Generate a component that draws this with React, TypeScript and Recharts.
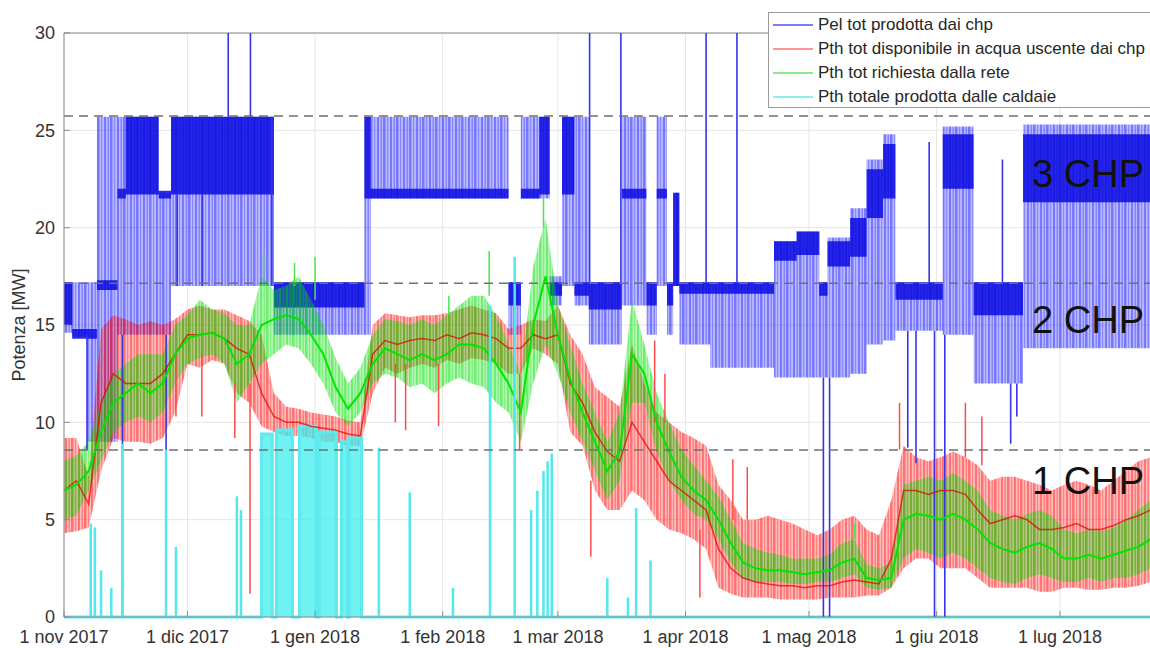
import React from 'react'
import {
  ComposedChart,
  Area,
  Line,
  XAxis,
  YAxis,
  CartesianGrid,
  ReferenceLine,
  ReferenceDot,
} from 'recharts'

const FONT = '"Liberation Sans", Arial, Helvetica, sans-serif'

// ── Axes ────────────────────────────────────────────────────────────────
// days counted from 1 nov 2017
const monthTickDays = [0, 30, 61, 92, 120, 151, 181, 212, 242]
const monthTickLabels = [
  '1 nov 2017', '1 dic 2017', '1 gen 2018', '1 feb 2018', '1 mar 2018',
  '1 apr 2018', '1 mag 2018', '1 giu 2018', '1 lug 2018',
]
const powerTicks = [0, 5, 10, 15, 20, 25, 30]

// CHP thresholds and their labels
const chpLevels = [8.58, 17.15, 25.73]
const chpLabels = ['1 CHP', '2 CHP', '3 CHP']
const chpLabelValues = [6.3, 14.6, 22.1]
const chpLabelDay = 235.2

// ── Legend ──────────────────────────────────────────────────────────────
const seriesNames = [
  'Pel tot prodotta dai chp',
  'Pth tot disponibile in acqua uscente dai chp',
  'Pth tot richiesta dalla rete',
  'Pth totale prodotta dalle caldaie',
]
const seriesLegendColors = ['#7b7bff', '#ff9494', '#8ee88e', '#8cefef']

// ── Pel (blue): step segments, start day + envelope + dense core ────────
const blueStartDay = [
  0, 2, 5.5, 8, 13, 15, 23, 26, 51, 73,
  74.5, 108, 111, 115.5, 118, 121, 124, 127.5, 135.5, 141.5,
  144, 146.5, 148, 149.5, 157, 172.5, 178, 183.5, 185.5, 191,
  195, 199, 202, 213.5, 221, 233, 266,
]
const blueLow = [
  14.6, 14.4, 9.0, 9.0, 14.5, 14.5, 14.5, 17.0, 14.5, 14.5,
  21.5, 14.5, 21.5, 21.5, 16.0, 17.0, 16.0, 14.0, 16.0, 14.5,
  17.0, 14.5, 17.0, 14.0, 12.8, 12.3, 12.3, 12.3, 12.3, 12.5,
  14.0, 14.2, 14.7, 14.5, 12.0, 13.8, 13.8,
]
const blueHigh = [
  17.2, 17.2, 17.2, 25.7, 25.7, 25.7, 21.8, 25.7, 17.2, 25.7,
  25.7, 17.2, 25.7, 25.7, 17.5, 25.7, 25.7, 17.2, 25.7, 17.2,
  25.7, 17.2, 21.8, 17.2, 17.2, 19.3, 19.8, 17.2, 19.5, 21.0,
  23.5, 24.8, 17.2, 25.2, 17.2, 25.3, 25.3,
]
const blueCoreLow = [
  15.0, 14.3, 14.3, 16.8, 21.5, 21.7, 21.5, 21.7, 15.9, 21.5,
  21.5, 16.0, 21.5, 21.7, 16.5, 21.7, 16.5, 15.8, 21.5, 16.0,
  21.5, 16.0, 17.0, 16.6, 16.6, 18.3, 18.6, 16.5, 18.0, 18.5,
  20.5, 21.5, 16.3, 22.0, 15.5, 21.3, 21.3,
]
const blueCoreHigh = [
  17.2, 14.8, 14.8, 17.3, 22.0, 25.7, 21.9, 25.7, 17.2, 25.7,
  22.0, 17.2, 22.0, 25.7, 17.2, 25.7, 17.2, 17.2, 22.0, 17.2,
  22.0, 17.2, 21.8, 17.2, 17.2, 19.3, 19.8, 17.2, 19.3, 20.5,
  23.0, 24.3, 17.2, 24.8, 17.2, 24.8, 24.8,
]
// single-sample excursions of Pel
const blueSpikeDay = [5.6, 14.2, 24.8, 27.5, 33.6, 39.9, 45.3, 50.5, 127.7, 135.3, 156, 163.5, 184.5, 186, 205, 207, 210.2, 211.5, 214, 228, 230, 231.5]
const blueSpikeLow = [8.6, 0, 0, 17, 17, 25.7, 25.7, 17, 17.2, 17.2, 17.2, 17.2, 0, 0, 8.7, 7.9, 17.2, 0, 0, 17.2, 8.9, 10.3]
const blueSpikeHigh = [14.5, 14.5, 14.5, 21.7, 21.7, 30, 30, 25.7, 30, 30, 30, 30, 12.3, 12.3, 14.7, 14.7, 24.4, 14.7, 14.5, 23.5, 12, 12]

// ── Thermal series, sampled every 3 days ────────────────────────────────
const SAMPLE_STEP = 3
const redLow = [
  4.3, 4.4, 4.6, 7.5, 9.2, 9.0, 9.0, 8.9, 9.2, 10.5,
  13.0, 12.8, 13.2, 13.0, 11.5, 11.0, 9.8, 9.5, 9.3, 9.3,
  9.2, 9.0, 9.0, 8.8, 8.8, 11.5, 12.8, 12.5, 12.8, 13.0,
  12.8, 13.2, 13.0, 13.3, 13.2, 13.0, 12.5, 12.5, 13.8, 13.5,
  13.0, 9.5, 8.8, 6.5, 5.5, 5.5, 6.5, 6.0, 5.0, 4.5,
  4.3, 4.0, 3.5, 1.5, 1.2, 1.0, 1.0, 1.0, 0.9, 0.9,
  0.9, 0.9, 1.0, 1.0, 1.0, 1.1, 1.1, 1.5, 2.5, 3.0,
  3.0, 2.5, 2.5, 2.5, 2.0, 1.5, 1.5, 1.5, 1.5, 1.3,
  1.3, 1.5, 1.5, 1.4, 1.4, 1.5, 1.5, 1.6, 1.8,
]
const redMid = [
  6.5, 7.0, 5.8, 11.0, 12.5, 12.0, 12.0, 12.0, 12.5, 13.5,
  14.5, 14.5, 14.6, 14.3, 13.8, 13.5, 11.5, 10.3, 10.0, 10.0,
  9.8, 9.7, 9.6, 9.4, 9.3, 13.5, 14.2, 14.0, 14.2, 14.3,
  14.2, 14.5, 14.3, 14.6, 14.5, 14.3, 13.8, 13.8, 14.5, 14.3,
  14.5, 12.0, 11.0, 9.5, 8.5, 8.0, 10.0, 9.0, 8.0, 7.0,
  6.5, 6.0, 5.5, 3.5, 2.5, 2.0, 1.8, 1.7, 1.6, 1.6,
  1.5, 1.6, 1.6, 1.8, 1.9, 1.8, 1.7, 3.0, 6.5, 6.5,
  6.3, 6.5, 6.5, 6.3, 5.5, 4.8, 5.0, 5.2, 5.0, 4.5,
  4.5, 4.6, 4.8, 4.5, 4.5, 4.7, 5.0, 5.2, 5.5,
]
const redHigh = [
  9.2, 9.2, 7.2, 14.8, 15.5, 15.3, 15.0, 15.2, 15.0, 15.3,
  15.8, 16.0, 15.8, 15.8, 15.5, 15.2, 14.5, 11.5, 10.8, 10.7,
  10.5, 10.4, 10.3, 10.1, 10.0, 15.0, 15.6, 15.5, 15.4, 15.5,
  15.5, 15.6, 15.8, 16.0, 15.8, 15.6, 14.8, 15.0, 15.3, 15.2,
  16.0, 14.5, 13.5, 11.8, 11.3, 10.8, 14.0, 12.0, 10.5, 10.0,
  9.5, 9.2, 8.8, 6.8, 6.0, 5.0, 5.0, 5.2, 5.0, 4.8,
  4.5, 4.2, 4.5, 5.0, 5.2, 4.5, 4.2, 6.0, 8.8, 8.2,
  8.0, 8.2, 8.5, 8.2, 7.8, 7.0, 7.2, 7.2, 7.0, 6.8,
  6.5, 6.8, 7.0, 6.8, 6.5, 7.0, 7.5, 8.0, 8.2,
]
const greenLow = [
  5.0, 5.2, 6.5, 8.0, 9.5, 10.0, 10.3, 10.0, 10.5, 12.0,
  13.0, 13.3, 13.5, 13.0, 11.0, 12.0, 13.0, 13.5, 14.0, 13.8,
  13.0, 12.0, 10.5, 9.8, 10.5, 12.0, 12.5, 12.3, 11.8, 12.0,
  11.5, 12.0, 12.3, 12.0, 11.8, 11.0, 10.5, 9.0, 12.0, 14.0,
  12.5, 10.5, 9.0, 7.5, 6.0, 7.0, 11.0, 11.0, 8.5, 7.0,
  6.0, 5.3, 5.0, 4.0, 2.8, 2.0, 1.8, 1.8, 1.8, 1.7,
  1.7, 1.8, 1.8, 2.0, 2.2, 1.5, 1.4, 1.5, 3.0, 3.5,
  3.3, 3.0, 3.3, 3.0, 2.5, 2.0, 1.8, 1.7, 2.0, 2.2,
  2.0, 1.8, 1.8, 2.0, 1.8, 2.0, 2.0, 2.2, 2.5,
]
const greenMid = [
  6.5, 6.8, 7.5, 9.5, 11.0, 11.5, 12.0, 11.5, 12.0, 13.5,
  14.3, 14.5, 14.6, 14.3, 13.0, 13.5, 15.0, 15.3, 15.5, 15.3,
  14.5, 13.5, 11.8, 10.7, 11.5, 13.0, 13.8, 13.5, 13.2, 13.5,
  13.2, 13.5, 14.0, 14.0, 13.8, 13.0, 12.0, 10.5, 15.0, 17.5,
  14.5, 12.2, 10.5, 9.0, 7.5, 8.5, 13.5, 12.5, 10.0, 8.5,
  7.2, 6.5, 6.0, 5.0, 3.8, 2.8, 2.5, 2.4, 2.4, 2.3,
  2.2, 2.3, 2.4, 2.8, 3.0, 2.0, 1.9, 2.0, 5.0, 5.3,
  5.2, 5.0, 5.3, 5.0, 4.5, 3.8, 3.5, 3.3, 3.6, 3.8,
  3.5, 3.0, 3.0, 3.2, 3.0, 3.2, 3.4, 3.6, 4.0,
]
const greenHigh = [
  8.0, 8.3, 9.0, 11.0, 12.5, 13.0, 13.5, 13.5, 13.5, 15.0,
  15.5, 16.3, 15.8, 15.6, 15.0, 15.0, 17.5, 16.8, 17.0, 17.5,
  16.3, 15.0, 13.3, 12.0, 12.8, 14.5, 15.3, 15.2, 15.0, 15.3,
  15.0, 15.5, 16.0, 16.5, 16.5, 15.5, 14.0, 12.5, 18.0, 20.5,
  16.0, 14.0, 12.0, 10.5, 9.0, 10.5, 16.3, 14.0, 11.5, 10.0,
  8.6, 7.8, 7.0, 6.2, 5.0, 3.8, 3.5, 3.3, 3.2, 3.0,
  3.0, 3.0, 3.2, 3.8, 4.0, 2.7, 2.5, 2.8, 6.8, 7.0,
  7.2, 7.0, 7.4, 7.0, 6.5, 5.5, 5.2, 5.0, 5.3, 5.5,
  5.2, 4.5, 4.3, 4.5, 4.4, 4.6, 5.0, 5.5, 6.0,
]
const redSpikeDay = [27.2, 33.5, 41.5, 45.2, 80.5, 83, 91, 110.7, 128, 143.5, 146, 154.5, 162.5, 166, 203, 219, 223]
const redSpikeLow = [10.3, 10.3, 9.2, 1.2, 10, 9.6, 9.8, 8.6, 3.1, 10, 10, 1.0, 5, 5, 8.6, 8.2, 7.8]
const redSpikeHigh = [13.5, 13.5, 12, 12, 13, 13, 13, 12.5, 7, 14.2, 12.5, 4.5, 8.1, 7.7, 11, 11, 10.3]
const greenSpikeDay = [48.5, 56, 61, 93.5, 103.3, 116.5, 192]
const greenSpikeLow = [17.5, 17, 16.3, 15.5, 16.5, 20, 4]
const greenSpikeHigh = [18.7, 18.2, 18.5, 16.5, 18.8, 21.5, 4.8]

// ── Boilers (cyan): blocks (step) and single spikes ────────────────────
const cyanStartDay = [0, 48, 50.6, 51.6, 55.5, 57.2, 61.3, 62, 66.2, 67.4, 68.9, 69.3, 72.3, 266]
const cyanLevel = [0, 9.4, 0, 9.6, 0, 9.8, 0, 9.5, 0, 9.0, 0, 9.2, 0, 0]
const cyanSpikeDay = [6.5, 7.5, 9, 11.5, 14.2, 24.8, 27.2, 42, 43, 76.5, 84, 94.5, 103.5, 109.5, 113.5, 115, 116.5, 117.5, 118.5, 132, 137, 139, 142.5]
const cyanSpikeHigh = [4.8, 4.6, 2.4, 1.5, 8.9, 8.6, 3.6, 6.2, 5.5, 8.7, 6.4, 1.5, 16, 18.5, 5.5, 6.5, 7.5, 8.0, 8.4, 2.0, 1.0, 5.6, 2.9]

const blueRows = blueStartDay.map((day, i) => ({
  day,
  env: [blueLow[i], blueHigh[i]],
  core: [blueCoreLow[i], blueCoreHigh[i]],
}))
const thermalRows = redLow.map((_, i) => ({
  day: i * SAMPLE_STEP,
  red: [redLow[i], redHigh[i]],
  redMid: redMid[i],
  green: [greenLow[i], greenHigh[i]],
  greenMid: greenMid[i],
}))
const cyanRows = cyanStartDay.map((day, i) => ({ day, cyan: cyanLevel[i] }))

const monthLabel = (v: number) => monthTickLabels[monthTickDays.indexOf(v)] ?? ''

function spikes(days: number[], lows: number[] | null, highs: number[], color: string, width: number, tag: string) {
  return days.map((d, i) => (
    <ReferenceLine
      key={tag + i}
      segment={[{ x: d, y: lows ? lows[i] : 0 }, { x: d, y: highs[i] }]}
      stroke={color}
      strokeWidth={width}
    />
  ))
}

// vertical hatch that imitates the dense daily cycling of the traces
function Hatch({ id, color, base, stripe }: { id: string; color: string; base: number; stripe: number }) {
  return (
    <pattern id={id} width={13} height={10} patternUnits="userSpaceOnUse">
      <rect width={13} height={10} fill={color} fillOpacity={base} />
      <rect x={0} width={2} height={10} fill={color} fillOpacity={stripe} />
      <rect x={3.5} width={1.5} height={10} fill={color} fillOpacity={stripe * 0.8} />
      <rect x={6} width={2.5} height={10} fill={color} fillOpacity={stripe} />
      <rect x={10} width={1.2} height={10} fill={color} fillOpacity={stripe * 0.75} />
    </pattern>
  )
}

function LegendBox() {
  return (
    <div
      style={{
        position: 'absolute', left: 768, top: 12, width: 430, height: 96,
        border: '1px solid #9a9a9a', background: '#fff', boxSizing: 'border-box',
      }}
    >
      {seriesNames.map((name, i) => (
        <div key={name} style={{ display: 'flex', alignItems: 'center', height: 24 }}>
          <div style={{ width: 40, height: 2, marginLeft: 4, marginRight: 5, background: seriesLegendColors[i] }} />
          <span style={{ fontSize: 17, color: '#262626', whiteSpace: 'nowrap', fontFamily: FONT }}>{name}</span>
        </div>
      ))}
    </div>
  )
}

export default function App() {
  return (
    <div
      style={{
        position: 'fixed', left: 0, top: 0, width: 1150, height: 648,
        overflow: 'hidden', background: '#fff', fontFamily: FONT,
      }}
    >
      <ComposedChart width={1200} height={648} margin={{ top: 33, right: 0, bottom: 0, left: 0 }}>
        <defs>
          <Hatch id="hatchBlue" color="#0000ff" base={0.45} stripe={0.8} />
          <Hatch id="hatchRed" color="#ff0000" base={0.45} stripe={0.85} />
          <Hatch id="hatchGreen" color="#00e000" base={0.5} stripe={0.85} />
        </defs>
        <CartesianGrid stroke="#e6e6e6" />
        <XAxis
          dataKey="day"
          type="number"
          domain={[0, 276]}
          ticks={monthTickDays}
          interval={0}
          tickFormatter={monthLabel}
          height={31}
          tickSize={-6}
          tickMargin={19}
          stroke="#8c8c8c"
          tick={{ fill: '#333', fontSize: 18, fontFamily: FONT }}
        />
        <YAxis
          type="number"
          domain={[0, 30]}
          ticks={powerTicks}
          width={64}
          tickSize={-6}
          tickMargin={15}
          stroke="#8c8c8c"
          tick={{ fill: '#333', fontSize: 18, fontFamily: FONT }}
          label={{
            value: 'Potenza [MW]', angle: -90, position: 'insideLeft', offset: 19,
            style: { textAnchor: 'middle', fill: '#333', fontSize: 18, fontFamily: FONT },
          }}
        />
        <ReferenceLine y={30} stroke="#8c8c8c" />

        {/* Pel tot prodotta dai chp */}
        <Area data={blueRows} dataKey="env" type="stepAfter" stroke="none" fill="url(#hatchBlue)" isAnimationActive={false} />
        <Area data={blueRows} dataKey="core" type="stepAfter" stroke="none" fill="#0a0ae0" fillOpacity={0.85} isAnimationActive={false} />
        {spikes(blueSpikeDay, blueSpikeLow, blueSpikeHigh, '#3434e8', 1.6, 'b')}

        {/* Pth tot disponibile in acqua uscente dai chp */}
        <Area data={thermalRows} dataKey="red" type="linear" stroke="none" fill="url(#hatchRed)" isAnimationActive={false} />
        <Line data={thermalRows} dataKey="redMid" type="linear" stroke="#e00000" strokeWidth={1.5} strokeOpacity={0.7} dot={false} isAnimationActive={false} />
        {spikes(redSpikeDay, redSpikeLow, redSpikeHigh, '#ff4a4a', 1.5, 'r')}

        {/* Pth tot richiesta dalla rete */}
        <Area data={thermalRows} dataKey="green" type="linear" stroke="none" fill="url(#hatchGreen)" isAnimationActive={false} />
        <Line data={thermalRows} dataKey="greenMid" type="linear" stroke="#00e600" strokeWidth={2} dot={false} isAnimationActive={false} />
        {spikes(greenSpikeDay, greenSpikeLow, greenSpikeHigh, '#48e848', 1.5, 'g')}

        {/* Pth totale prodotta dalle caldaie */}
        <Area data={cyanRows} dataKey="cyan" type="stepAfter" stroke="#5ee9ee" strokeWidth={3} fill="#3eeeee" fillOpacity={0.75} isAnimationActive={false} />
        {spikes(cyanSpikeDay, null, cyanSpikeHigh, '#52e8ec', 2.5, 'c')}

        {chpLevels.map((lvl) => (
          <ReferenceLine key={lvl} y={lvl} stroke="#707070" strokeWidth={1.5} strokeDasharray="9 6" />
        ))}
        {chpLabels.map((txt, i) => (
          <ReferenceDot
            key={txt}
            x={chpLabelDay}
            y={chpLabelValues[i]}
            r={1}
            shape={(p: any) => (
              <text x={p.cx} y={p.cy} fontSize={38} fill="#111" fontFamily={FONT}>{txt}</text>
            )}
          />
        ))}
      </ComposedChart>
      <LegendBox />
    </div>
  )
}
